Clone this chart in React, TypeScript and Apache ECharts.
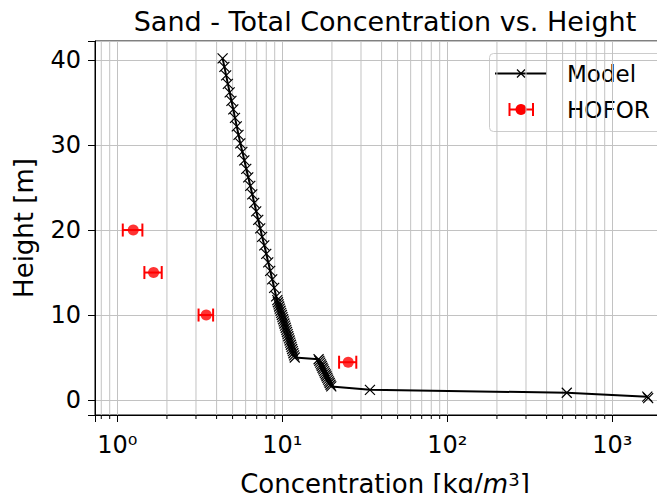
import React, { useEffect, useRef } from 'react';
import * as echarts from 'echarts';

// Model profile: concentration [kg/m3] vs height [m]
const modelConc = [
  4.35, 4.46, 4.57, 4.68, 4.8, 4.92, 5.05, 5.17, 5.3, 5.43, 5.57, 5.73, 5.89, 6.05, 6.22, 6.4, 6.58, 6.76, 6.95, 7.15,
  7.35, 7.55, 7.78, 8.0, 8.22, 8.45, 8.69, 8.93, 9.18,
  9.33, 9.41, 9.5, 9.58, 9.67, 9.76, 9.85, 9.94, 10.03, 10.12, 10.21, 10.3, 10.4, 10.49, 10.59, 10.68, 10.78, 10.88,
  10.98, 11.08, 11.18, 11.28, 11.38, 11.48, 11.59, 11.69, 11.8, 11.9,
  16.6, 16.78, 16.97, 17.16, 17.35, 17.54, 17.74, 17.93, 18.13, 18.34, 18.54, 18.75, 18.96, 19.17, 19.38, 19.6, 19.82,
  34, 530, 1630, 1650,
];
const modelHeight = [
  40.2, 39.2, 38.2, 37.2, 36.2, 35.2, 34.2, 33.2, 32.2, 31.2, 30.2, 29.2, 28.2, 27.2, 26.2, 25.2, 24.2, 23.2, 22.2, 21.2,
  20.2, 19.2, 18.2, 17.2, 16.2, 15.2, 14.2, 13.2, 12.2,
  11.75, 11.5, 11.25, 11.0, 10.75, 10.5, 10.25, 10.0, 9.75, 9.5, 9.25, 9.0, 8.75, 8.5, 8.25, 8.0, 7.75, 7.5,
  7.25, 7.0, 6.75, 6.5, 6.25, 6.0, 5.75, 5.5, 5.25, 5.0,
  4.8, 4.6, 4.4, 4.2, 4.0, 3.8, 3.6, 3.4, 3.2, 3.0, 2.8, 2.6, 2.4, 2.2, 2.0, 1.8, 1.6,
  1.2, 0.86, 0.4, 0.22,
];

// HOFOR measurements
const hoforConc = [1.25, 1.66, 3.46, 25.1];
const hoforHeight = [20, 15, 10, 4.45];
const hoforErr = [0.17, 0.2, 0.35, 3.0];

// Axis ticks
const minorXTicks = [0.8, 0.9, 2, 3, 4, 5, 6, 7, 8, 9, 20, 30, 40, 50, 60, 70, 80, 90, 200, 300, 400, 500, 600, 700, 800, 900, 2000];
const superscripts = ['⁰', '¹', '²', '³'];
const yTickStep = 10;

const X_MIN = 0.733;
const X_MAX = 2400;
const Y_MIN = -1.76;
const Y_MAX = 42.24;

const FONT = 'DejaVu Sans';
const GRID_COLOR = '#c2c2c2';

export default function App() {
  const ref = useRef<HTMLDivElement>(null);

  useEffect(() => {
    if (!ref.current) return;
    const chart = echarts.init(ref.current, undefined, { renderer: 'svg' });

    const modelData = modelConc.map((c, i) => [c, modelHeight[i]]);
    const hoforData = hoforConc.map((c, i) => [c, hoforHeight[i]]);
    const errData = hoforConc.map((c, i) => [c, hoforHeight[i], hoforErr[i]]);

    const option: any = {
      animation: false,
      textStyle: { fontFamily: FONT, color: '#000' },
      grid: {
        left: 95,
        top: 41,
        width: 580,
        height: 374,
        outerBoundsMode: 'none',
        containLabel: false,
        show: true,
        borderColor: '#000',
        borderWidth: 1,
        backgroundColor: '#fff',
      },
      xAxis: {
        type: 'log',
        logBase: 10,
        min: X_MIN,
        max: X_MAX,
        name: '{n|Concentration [kg/}{i|m}{s|3}{n|]}',
        nameLocation: 'middle',
        nameGap: 55,
        nameTextStyle: {
          rich: {
            n: { fontSize: 26, fontFamily: FONT, color: '#000', lineHeight: 28 },
            i: { fontSize: 26, fontFamily: FONT, fontStyle: 'italic', color: '#000', lineHeight: 28 },
            s: { fontSize: 18, fontFamily: FONT, color: '#000', verticalAlign: 'top', lineHeight: 20 },
          },
        },
        axisLine: { show: true, onZero: false, lineStyle: { color: '#000', width: 1 } },
        axisTick: { show: true, length: 7, lineStyle: { color: '#000', width: 1 } },
        axisLabel: {
          show: true,
          showMinLabel: true,
          showMaxLabel: true,
          margin: 18,
          fontSize: 24,
          color: '#000',
          formatter: (v: number) => {
            const e = Math.log10(v);
            const r = Math.round(e);
            if (Math.abs(e - r) > 0.01 || r < 0 || r > 3) return '';
            return '10' + superscripts[r];
          },
        },
        splitLine: { show: true, lineStyle: { color: GRID_COLOR, width: 1 } },
      },
      yAxis: {
        type: 'value',
        min: Y_MIN,
        max: Y_MAX,
        name: 'Height [m]',
        nameLocation: 'middle',
        nameGap: 58,
        nameTextStyle: { fontSize: 26, fontFamily: FONT, color: '#000' },
        axisLine: { show: true, onZero: false, lineStyle: { color: '#000', width: 1 } },
        axisTick: { show: true, length: 7, lineStyle: { color: '#000', width: 1 } },
        axisLabel: {
          fontSize: 24,
          color: '#000',
          margin: 14,
          showMinLabel: true,
          showMaxLabel: true,
          formatter: (v: number) => {
            const r = Math.round(v);
            if (Math.abs(v - r) > 1e-6 || r % yTickStep !== 0) return '';
            return String(r);
          },
        },
        splitLine: { show: true, lineStyle: { color: GRID_COLOR, width: 1 } },
      },
      series: [
        {
          type: 'custom',
          name: 'minorGrid',
          z: 1,
          clip: false,
          silent: true,
          data: minorXTicks.map((v) => [v, 0]),
          encode: { x: 0, y: 1 },
          renderItem: (params: any, api: any) => {
            const v = api.value(0);
            const top = api.coord([v, Y_MAX]);
            const bot = api.coord([v, Y_MIN]);
            return {
              type: 'group',
              children: [
                {
                  type: 'line',
                  shape: { x1: top[0], y1: top[1], x2: bot[0], y2: bot[1] },
                  style: { stroke: GRID_COLOR, lineWidth: 1 },
                },
                {
                  type: 'line',
                  shape: { x1: bot[0], y1: bot[1], x2: bot[0], y2: bot[1] + 4 },
                  style: { stroke: '#000', lineWidth: 1 },
                },
              ],
            };
          },
        },
        {
          type: 'line',
          name: 'Model',
          z: 3,
          data: modelData,
          showAllSymbol: true,
          symbol: 'path://M0,0L10,10M10,0L0,10',
          symbolSize: 10,
          itemStyle: { color: 'rgba(0,0,0,0)', borderColor: '#000', borderWidth: 1.2 },
          lineStyle: { color: '#000', width: 2 },
        },
        {
          type: 'custom',
          name: 'HOFOR error',
          z: 4,
          data: errData,
          encode: { x: 0, y: 1 },
          renderItem: (params: any, api: any) => {
            const x = api.value(0);
            const y = api.value(1);
            const e = api.value(2);
            const lo = api.coord([x - e, y]);
            const hi = api.coord([x + e, y]);
            const h = 6.5;
            const st = { stroke: '#ff0000', lineWidth: 2 };
            return {
              type: 'group',
              children: [
                { type: 'line', shape: { x1: lo[0], y1: lo[1], x2: hi[0], y2: hi[1] }, style: st },
                { type: 'line', shape: { x1: lo[0], y1: lo[1] - h, x2: lo[0], y2: lo[1] + h }, style: st },
                { type: 'line', shape: { x1: hi[0], y1: hi[1] - h, x2: hi[0], y2: hi[1] + h }, style: st },
              ],
            };
          },
        },
        {
          type: 'scatter',
          name: 'HOFOR',
          z: 5,
          data: hoforData,
          symbol: 'circle',
          symbolSize: 11,
          itemStyle: { color: '#ff0000' },
        },
      ],
      graphic: [
        {
          type: 'text',
          x: 385,
          y: 21,
          style: {
            text: 'Sand - Total Concentration vs. Height',
            fontSize: 27,
            fontFamily: FONT,
            fill: '#000',
            textAlign: 'center',
            textVerticalAlign: 'middle',
          },
        },
        {
          type: 'group',
          z: 100,
          children: [
            {
              type: 'rect',
              shape: { x: 489.5, y: 53.5, width: 173, height: 78, r: 4 },
              style: { fill: 'rgba(255,255,255,0.8)', stroke: '#cccccc', lineWidth: 1 },
            },
            { type: 'line', shape: { x1: 495, y1: 73.5, x2: 547, y2: 73.5 }, style: { stroke: '#000', lineWidth: 2 } },
            { type: 'line', shape: { x1: 517, y1: 69.5, x2: 525, y2: 77.5 }, style: { stroke: '#000', lineWidth: 1.3 } },
            { type: 'line', shape: { x1: 525, y1: 69.5, x2: 517, y2: 77.5 }, style: { stroke: '#000', lineWidth: 1.3 } },
            {
              type: 'text',
              x: 567,
              y: 74,
              style: { text: 'Model', fontSize: 23, fontFamily: FONT, fill: '#000', textVerticalAlign: 'middle' },
            },
            { type: 'line', shape: { x1: 509.5, y1: 109.5, x2: 533, y2: 109.5 }, style: { stroke: '#ff0000', lineWidth: 2 } },
            { type: 'line', shape: { x1: 509.5, y1: 103, x2: 509.5, y2: 116 }, style: { stroke: '#ff0000', lineWidth: 2 } },
            { type: 'line', shape: { x1: 533, y1: 103, x2: 533, y2: 116 }, style: { stroke: '#ff0000', lineWidth: 2 } },
            { type: 'circle', shape: { cx: 521, cy: 109.5, r: 5.5 }, style: { fill: '#ff0000' } },
            {
              type: 'text',
              x: 567,
              y: 109.5,
              style: { text: 'HOFOR', fontSize: 23, fontFamily: FONT, fill: '#000', textVerticalAlign: 'middle' },
            },
          ],
        },
      ],
    };

    chart.setOption(option);
    return () => {
      chart.dispose();
    };
  }, []);

  return <div ref={ref} style={{ width: 665, height: 501, margin: -8 }} />;
}
